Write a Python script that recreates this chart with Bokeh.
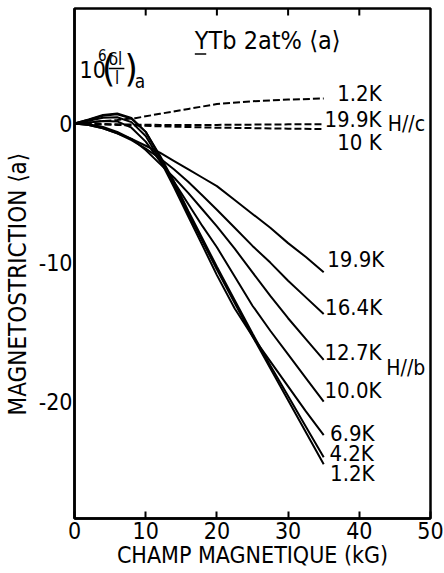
import math

from bokeh.embed import file_html
from bokeh.models import Label, FixedTicker
from bokeh.plotting import figure
from bokeh.resources import INLINE

FONT = "'DejaVu Sans Condensed', 'Liberation Sans Narrow', Roboto, sans-serif"

# Applied field (kG) for the H // b curves
field_b = [0, 2, 4, 6, 8, 10, 12, 14, 16, 18, 20, 22.5, 25, 27.5, 30, 32.5, 35]

# Magnetostriction 10^6 (dl/l)_a, H // b, one list per temperature
b_1_2K = [0, 0.30, 0.62, 0.72, 0.40, -0.6, -2.4, -4.4, -6.5, -8.5, -10.5, -12.9, -15.3, -17.6, -19.9, -22.2, -24.5]
b_4_2K = [0, 0.27, 0.56, 0.66, 0.35, -0.6, -2.3, -4.2, -6.3, -8.3, -10.3, -12.7, -15.1, -17.4, -19.6, -21.8, -24.0]
b_6_9K = [0, 0.20, 0.42, 0.45, 0.10, -0.9, -2.6, -4.6, -6.7, -8.8, -10.9, -13.3, -15.3, -17.1, -18.9, -20.7, -22.4]
b_10_0K = [0, 0.08, 0.18, 0.15, -0.30, -1.3, -2.7, -4.2, -5.8, -7.4, -8.9, -11.0, -13.1, -14.9, -16.6, -18.3, -20.0]
b_12_7K = [0, -0.05, -0.25, -0.6, -1.1, -1.9, -2.9, -3.9, -5.0, -6.2, -7.4, -9.0, -10.7, -12.4, -14.0, -15.5, -17.0]
b_16_4K = [0, -0.10, -0.35, -0.7, -1.2, -1.8, -2.5, -3.3, -4.2, -5.2, -6.2, -7.5, -8.8, -10.0, -11.3, -12.5, -13.7]
b_19_9K = [0, -0.10, -0.35, -0.7, -1.1, -1.6, -2.1, -2.7, -3.3, -3.9, -4.5, -5.5, -6.5, -7.5, -8.6, -9.6, -10.7]

series_b = [b_1_2K, b_4_2K, b_6_9K, b_10_0K, b_12_7K, b_16_4K, b_19_9K]
labels_b = ["1.2K", "4.2K", "6.9K", "10.0K", "12.7K", "16.4K", "19.9K"]
label_y_b = [-25.2, -23.7, -22.3, -19.2, -16.5, -13.2, -9.8]
label_dx_b = [0.9, 0.8, 0.9, 0.1, 0.1, 0.2, 0.5]

# H // c curves (dashed)
field_c = [0, 3, 6, 8.5, 12, 16, 20, 25, 30, 35]
c_1_2K = [0, 0.12, 0.26, 0.38, 0.70, 1.05, 1.40, 1.60, 1.72, 1.80]
c_19_9K = [0, -0.03, -0.05, -0.08, -0.10, -0.10, -0.10, -0.08, -0.06, -0.05]
c_10K = [0, -0.05, -0.10, -0.15, -0.20, -0.25, -0.30, -0.33, -0.37, -0.40]

series_c = [c_1_2K, c_19_9K, c_10K]
labels_c = ["1.2K", "19.9K", "10 K"]
label_y_c = [2.16, 0.29, -1.37]
label_dx_c = [1.9, 0.1, 1.9]

x_ticks = [0, 10, 20, 30, 40, 50]
top_ticks = [10, 20, 30, 40]
y_ticks = [0, -10, -20]

Y_MIN, Y_MAX = -28.4, 8.27

p = figure(
    width=444, height=573,
    x_range=(0, 50), y_range=(Y_MIN, Y_MAX),
    output_backend="svg", toolbar_location=None,
    min_border_left=73, min_border_right=14,
    min_border_top=8, min_border_bottom=55,
)
p.background_fill_color = "white"
p.border_fill_color = "white"
p.grid.visible = False
p.outline_line_color = "black"
p.outline_line_width = 2.5

# bottom axis
xa = p.xaxis[0]
xa.ticker = FixedTicker(ticks=x_ticks)
xa.major_tick_in = 7
xa.major_tick_out = 0
xa.minor_tick_line_color = None
xa.axis_line_width = 2.5
xa.major_tick_line_width = 2
xa.major_label_text_font = FONT
xa.major_label_text_font_size = "23px"
xa.major_label_text_color = "black"
xa.major_label_standoff = 3
xa.axis_label = "CHAMP MAGNETIQUE (kG)"
xa.axis_label_text_font = FONT
xa.axis_label_text_font_size = "23px"
xa.axis_label_text_font_style = "normal"
xa.axis_label_text_color = "black"
xa.axis_label_standoff = 0

# left axis
ya = p.yaxis[0]
ya.ticker = FixedTicker(ticks=y_ticks)
ya.major_tick_in = 0
ya.major_tick_out = 0
ya.major_tick_line_color = None
ya.minor_tick_line_color = None
ya.axis_line_width = 2.5
ya.major_label_text_font = FONT
ya.major_label_text_font_size = "23px"
ya.major_label_text_color = "black"
ya.major_label_standoff = 2
ya.major_label_overrides = {0: "0", -10: "-10", -20: "-20"}
ya.axis_label = "MAGNETOSTRICTION \u27e8a\u27e9" + "\u00a0" * 6
ya.axis_label_text_font = FONT
ya.axis_label_text_font_size = "24px"
ya.axis_label_text_font_style = "normal"
ya.axis_label_text_color = "black"
ya.axis_label_standoff = 4

# inward ticks along the top edge (half of each dash is clipped by the frame)
p.scatter(top_ticks, [Y_MAX] * len(top_ticks), marker="dash", angle=math.pi / 2,
          size=14, line_color="black", line_width=2)

for ys in series_b:
    p.line(field_b, ys, line_color="black", line_width=2)

for ys in series_c:
    p.line(field_c, ys, line_color="black", line_width=2, line_dash="7 3")


def add_text(x, y, text, size, align="left", baseline="middle"):
    p.add_layout(Label(
        x=x, y=y, text=text, text_font=FONT, text_font_size=size,
        text_align=align, text_baseline=baseline, text_color="black",
    ))


for ys, lab, ly, dx in zip(series_b, labels_b, label_y_b, label_dx_b):
    add_text(field_b[-1] + dx, ly, lab, "22px")

for ys, lab, ly, dx in zip(series_c, labels_c, label_y_c, label_dx_c):
    add_text(field_c[-1] + dx, ly, lab, "22px")

add_text(44.0, 0.0, "H//c", "21px")
add_text(43.8, -17.55, "H//b", "21px")

# sample title with underlined Y
add_text(16.9, 5.97, "YTb 2at% \u27e8a\u27e9", "25px")
p.segment(x0=[16.9], y0=[5.0], x1=[18.5], y1=[5.0], line_color="black", line_width=1.5)

# ordinate quantity 10^6 (dl/l)_a
add_text(0.7, 3.88, "10", "23px")
add_text(3.3, 4.95, "6", "15px")
add_text(3.85, 3.96, "(", "38px")
add_text(4.8, 4.64, "\u03b4l", "17px")
p.segment(x0=[4.8], y0=[3.96], x1=[7.0], y1=[3.96], line_color="black", line_width=1.5)
add_text(6.0, 3.27, "l", "17px", align="center")
add_text(7.04, 3.96, ")", "38px")
add_text(8.45, 3.09, "a", "19px")

open("out.html", "w").write(file_html(p, INLINE))
